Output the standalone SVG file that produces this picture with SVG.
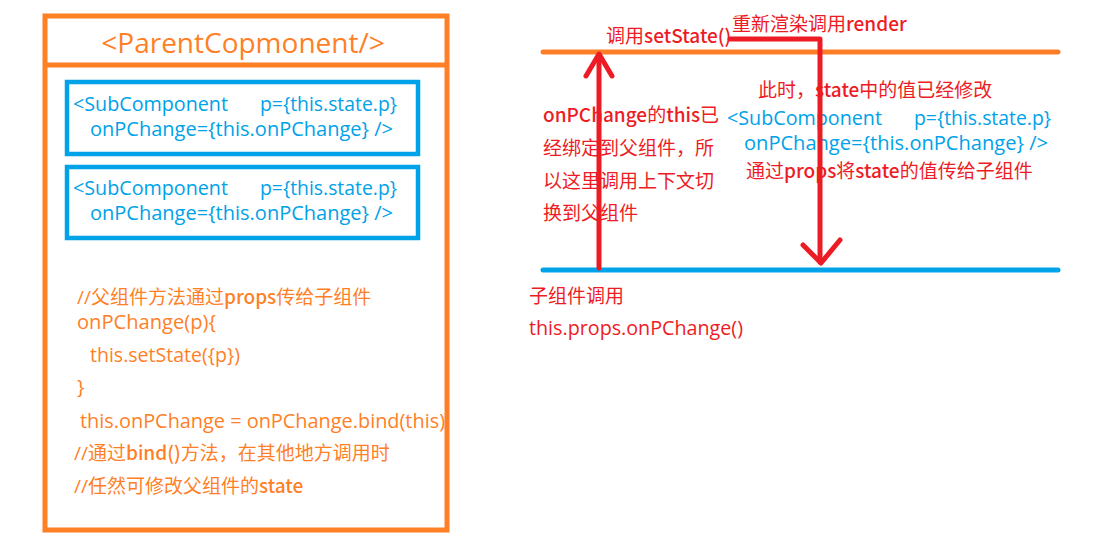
<svg xmlns="http://www.w3.org/2000/svg" width="1099" height="541" viewBox="0 0 1099 541">
<style>
text{font-family:"Open Sans","Noto Sans CJK SC",sans-serif;font-size:19px;}
.o{fill:#FF7F27;}
.bl{fill:#00A2E8;}
.r{fill:#ED1C24;}
.lat{font-size:20px;}
.b{font-family:"Noto Sans CJK SC",sans-serif;font-weight:500;font-size:19px;}
.title{font-size:28px;}
.ob{fill:none;stroke:#FF7F27;stroke-width:5;}
.bb{fill:none;stroke:#00A2E8;stroke-width:4.5;}
.ln{fill:none;stroke-width:5;stroke-linecap:round;}
.red{fill:none;stroke:#ED1C24;stroke-width:5;stroke-linecap:round;stroke-linejoin:round;}
</style>
<rect width="1099" height="541" fill="#fff"/>
<g id="parent">
<rect class="ob" x="45" y="16" width="402" height="514"/>
<line x1="45" y1="65" x2="447" y2="65" stroke="#FF7F27" stroke-width="5"/>
<text class="o title" x="243" y="53" text-anchor="middle">&lt;ParentCopmonent/&gt;</text>
</g>
<g id="sub1">
<rect class="bb" x="67" y="82" width="351" height="72"/>
<text class="bl lat" x="73" y="111" textLength="155" lengthAdjust="spacingAndGlyphs">&lt;SubComponent</text>
<text class="bl lat" x="260" y="111" textLength="137" lengthAdjust="spacingAndGlyphs">p={this.state.p}</text>
<text class="bl lat" x="90" y="136" textLength="303" lengthAdjust="spacingAndGlyphs">onPChange={this.onPChange} /&gt;</text>
</g>
<g id="sub2">
<rect class="bb" x="67" y="167" width="351" height="71"/>
<text class="bl lat" x="73" y="195" textLength="155" lengthAdjust="spacingAndGlyphs">&lt;SubComponent</text>
<text class="bl lat" x="260" y="195" textLength="137" lengthAdjust="spacingAndGlyphs">p={this.state.p}</text>
<text class="bl lat" x="90" y="220" textLength="303" lengthAdjust="spacingAndGlyphs">onPChange={this.onPChange} /&gt;</text>
</g>
<g id="code">
<text class="o" x="77" y="304">//父组件方法通过<tspan class="b">props</tspan>传给子组件</text>
<text class="o lat" x="77" y="329" textLength="139" lengthAdjust="spacingAndGlyphs">onPChange(p){</text>
<text class="o lat" x="90" y="362" textLength="150" lengthAdjust="spacingAndGlyphs">this.setState({p})</text>
<text class="o lat" x="77" y="394">}</text>
<text class="o lat" x="80" y="428" textLength="365" lengthAdjust="spacingAndGlyphs">this.onPChange = onPChange.bind(this)</text>
<text class="o" x="74" y="460">//通过<tspan class="b">bind()</tspan>方法，在其他地方调用时</text>
<text class="o" x="74" y="493">//任然可修改父组件的<tspan class="b">state</tspan></text>
</g>
<g id="parent-line">
<line class="ln" x1="543" y1="52" x2="1058" y2="52" stroke="#FF7F27"/>
<text class="r" x="606" y="43">调用<tspan class="b">setState()</tspan></text>
<text class="r" x="732" y="31">重新渲染调用<tspan class="b">render</tspan></text>
<text class="r" x="758" y="97">此时，<tspan class="b">state</tspan>中的值已经修改</text>
</g>
<g id="child-line">
<line class="ln" x1="543" y1="270" x2="1058" y2="270" stroke="#00A2E8"/>
<text class="r" x="529" y="303">子组件调用</text>
<text class="r lat" x="529" y="335" textLength="214" lengthAdjust="spacingAndGlyphs">this.props.onPChange()</text>
</g>
<g id="bind-note">
<text class="r" x="543" y="122"><tspan class="b">onPChange</tspan>的<tspan class="b">this</tspan>已</text>
<text class="r" x="543" y="155">经绑定到父组件，所</text>
<text class="r" x="543" y="188">以这里调用上下文切</text>
<text class="r" x="543" y="220">换到父组件</text>
</g>
<g id="props-note">
<text class="bl lat" x="727" y="125" textLength="155" lengthAdjust="spacingAndGlyphs">&lt;SubComponent</text>
<text class="bl lat" x="914" y="125" textLength="137" lengthAdjust="spacingAndGlyphs">p={this.state.p}</text>
<text class="bl lat" x="744" y="150" textLength="304" lengthAdjust="spacingAndGlyphs">onPChange={this.onPChange} /&gt;</text>
<text class="r" x="746" y="178">通过<tspan class="b">props</tspan>将<tspan class="b">state</tspan>的值传给子组件</text>
</g>
<g id="connectors">
<line class="red" x1="599" y1="268" x2="599" y2="55"/>
<polyline class="red" points="586,76 599,54 612,76"/>
<polyline class="red" points="730,39 820,39 820,262"/>
<polyline class="red" points="803,245 821,263 840,240"/>
</g>
</svg>
